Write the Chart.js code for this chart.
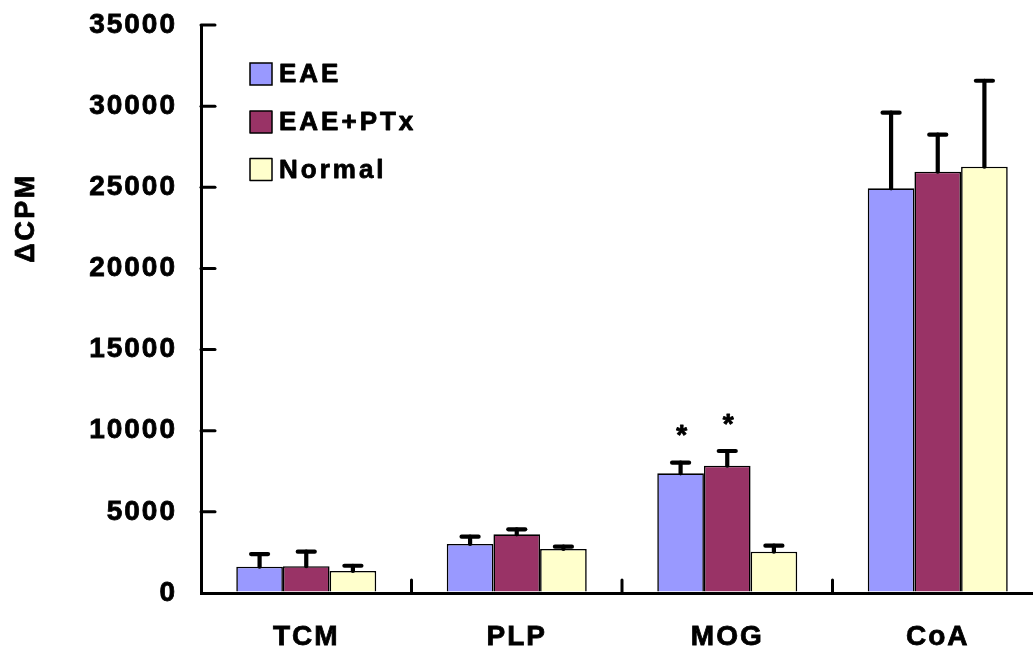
<!DOCTYPE html>
<html>
<head>
<meta charset="utf-8">
<script src="https://cdn.jsdelivr.net/npm/chart.js@4/dist/chart.umd.min.js"></script>
<style>
  html, body { margin: 0; padding: 0; background: #fff; overflow: hidden; }
  #wrap { width: 1043px; height: 650px; }
</style>
</head>
<body>
<div id="wrap"><canvas id="c" width="1043" height="650"></canvas></div>
<script>
// ---- data ----
const categories = ['TCM', 'PLP', 'MOG', 'CoA'];
const seriesNames = ['EAE', 'EAE+PTx', 'Normal'];
const eaeValues    = [1620, 3020, 7375, 24935];
const eaeErrors    = [780, 450, 655, 4660];
const ptxValues    = [1650, 3615, 7845, 25960];
const ptxErrors    = [895, 310, 905, 2280];
const normalValues = [1355, 2710, 2545, 26270];
const normalErrors = [325, 145, 370, 5295];
const eaeMarks     = ['', '', '*', ''];
const ptxMarks     = ['', '', '*', ''];
const normalMarks  = ['', '', '', ''];
const yTicks = [0, 5000, 10000, 15000, 20000, 25000, 30000, 35000];
const yTitle = 'ΔCPM';

const FAMILY = '"Liberation Sans", Arial, Helvetica, sans-serif';
const FONT = { family: FAMILY, size: 28, weight: 'bold' };
const fontStr = 'bold 28px ' + FAMILY;
const legendFont = 'bold 26px ' + FAMILY;
const SPACING = '2px';

const spacingPlugin = {
  id: 'spacing',
  beforeLayout(chart) { chart.ctx.letterSpacing = SPACING; },
  beforeDraw(chart) { chart.ctx.letterSpacing = SPACING; }
};

function boldText(ctx, text, x, y) {
  ctx.lineWidth = 0.8;
  ctx.lineJoin = 'round';
  ctx.strokeStyle = '#000';
  ctx.strokeText(text, x, y);
  ctx.fillText(text, x, y);
}

const extrasPlugin = {
  id: 'extras',
  afterDatasetsDraw(chart) {
    const ctx = chart.ctx;
    const y = chart.scales.y;
    ctx.save();
    ctx.strokeStyle = '#000';
    ctx.fillStyle = '#000';
    chart.data.datasets.forEach((ds, di) => {
      const meta = chart.getDatasetMeta(di);
      meta.data.forEach((bar, i) => {
        const top = ds.data[i] + ds.errors[i];
        const yTop = y.getPixelForValue(top);
        ctx.lineWidth = 4.2;
        ctx.lineCap = 'round';
        ctx.beginPath();
        ctx.moveTo(bar.x, bar.y);
        ctx.lineTo(bar.x, yTop);
        ctx.stroke();
        ctx.beginPath();
        ctx.moveTo(bar.x - 8.5, yTop);
        ctx.lineTo(bar.x + 8.5, yTop);
        ctx.stroke();
        const mark = ds.marks[i];
        if (mark) {
          ctx.font = fontStr;
          ctx.textAlign = 'center';
          ctx.textBaseline = 'alphabetic';
          const m = ctx.measureText(mark);
          const cy = yTop - 32;
          const base = cy + (m.actualBoundingBoxAscent - m.actualBoundingBoxDescent) / 2;
          boldText(ctx, mark, bar.x + 2, base);
        }
      });
    });
    ctx.restore();
  },
  afterDraw(chart) {
    const ctx = chart.ctx;
    const ys = chart.scales.y;
    const xs = chart.scales.x;
    const area = chart.chartArea;
    ctx.save();
    ctx.strokeStyle = '#000';
    ctx.lineWidth = 3;
    ctx.lineCap = 'round';
    // inward y ticks
    yTicks.forEach(v => {
      if (v === 0) return;
      const py = ys.getPixelForValue(v);
      ctx.beginPath();
      ctx.moveTo(area.left, py);
      ctx.lineTo(area.left + 14, py);
      ctx.stroke();
    });
    // inward x ticks between categories
    for (let i = 0; i < categories.length; i++) {
      const a = xs.getPixelForTick(i);
      const b = i + 1 < categories.length ? xs.getPixelForTick(i + 1) : a + (a - xs.getPixelForTick(i - 1));
      const px = (a + b) / 2;
      ctx.beginPath();
      ctx.moveTo(px, area.bottom);
      ctx.lineTo(px, area.bottom - 13);
      ctx.stroke();
    }
    // legend
    ctx.lineCap = 'butt';
    ctx.textAlign = 'left';
    ctx.textBaseline = 'middle';
    const rows = [74, 122, 169.5];
    chart.data.datasets.forEach((ds, di) => {
      const cy = rows[di];
      ctx.fillStyle = ds.backgroundColor;
      ctx.fillRect(250, cy - 11, 22, 22);
      ctx.lineWidth = 1.5;
      ctx.strokeStyle = '#000';
      ctx.strokeRect(250, cy - 11, 22, 22);
      ctx.fillStyle = '#000';
      ctx.font = legendFont;
      ctx.letterSpacing = '3px';
      boldText(ctx, ds.label, 279, cy + 1);
      ctx.letterSpacing = SPACING;
    });
    // y axis title
    ctx.save();
    ctx.translate(27, 218);
    ctx.rotate(-Math.PI / 2);
    ctx.font = 'bold 27px ' + FAMILY;
    ctx.letterSpacing = '2.5px';
    ctx.textAlign = 'center';
    ctx.textBaseline = 'middle';
    boldText(ctx, yTitle, 0, 0);
    ctx.restore();
    ctx.restore();
  }
};

const colors = ['#9999FF', '#993366', '#FFFFCC'];
const valueSets = [eaeValues, ptxValues, normalValues];
const errorSets = [eaeErrors, ptxErrors, normalErrors];
const markSets = [eaeMarks, ptxMarks, normalMarks];

new Chart(document.getElementById('c'), {
  type: 'bar',
  data: {
    labels: categories,
    datasets: seriesNames.map((name, i) => ({
      label: name,
      data: valueSets[i],
      errors: errorSets[i],
      marks: markSets[i],
      backgroundColor: colors[i],
      borderColor: '#000',
      borderWidth: 1.6,
      categoryPercentage: 0.665,
      barPercentage: 1.0
    }))
  },
  options: {
    responsive: false,
    animation: false,
    events: [],
    layout: { padding: { top: 25, left: 0, right: 0, bottom: 0 } },
    plugins: { legend: { display: false }, tooltip: { enabled: false }, title: { display: false } },
    scales: {
      x: {
        type: 'category',
        offset: true,
        grid: { display: true, color: 'rgba(0,0,0,0)', drawOnChartArea: false, drawTicks: false, lineWidth: 3 },
        border: { display: true, color: '#000', width: 3 },
        ticks: { font: FONT, color: '#000', padding: 27, maxRotation: 0, autoSkip: false,
                 textStrokeColor: '#000', textStrokeWidth: 0.8 },
        afterFit(s) { s.height = 57; s.paddingLeft = 0; s.paddingRight = 0; }
      },
      y: {
        min: 0,
        max: 35000,
        afterBuildTicks(s) { s.ticks = yTicks.map(v => ({ value: v })); },
        grid: { display: true, color: 'rgba(0,0,0,0)', drawOnChartArea: false, drawTicks: false, lineWidth: 3 },
        border: { display: true, color: '#000', width: 3 },
        ticks: { font: FONT, color: '#000', padding: 24, callback: v => String(v),
                 textStrokeColor: '#000', textStrokeWidth: 0.8 },
        afterFit(s) { s.width = 201; s.paddingTop = 0; s.paddingBottom = 0; }
      }
    }
  },
  plugins: [spacingPlugin, extrasPlugin]
});
</script>
</body>
</html>
